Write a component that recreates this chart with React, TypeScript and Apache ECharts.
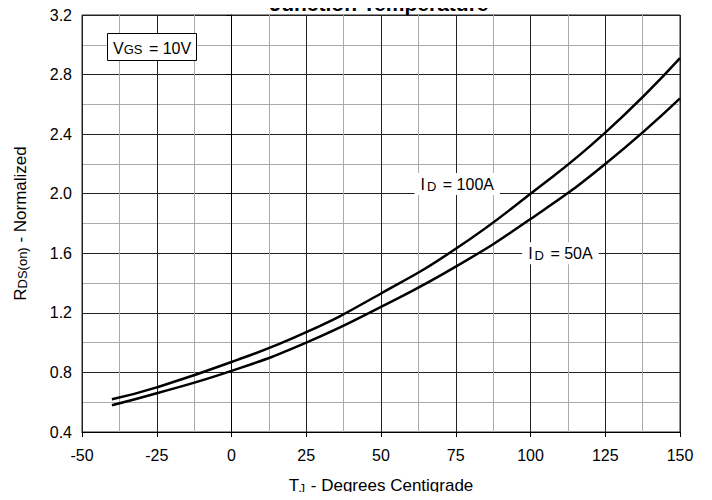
import React, { useEffect, useRef } from "react";
import * as echarts from "echarts";

const temps = [-40, -25, 0, 25, 50, 75, 100, 125, 150];
const rds100A = [0.62, 0.70, 0.87, 1.07, 1.33, 1.63, 2.0, 2.41, 2.91];
const rds50A = [0.58, 0.66, 0.81, 1.0, 1.24, 1.51, 1.83, 2.2, 2.64];
const xMin = -50, xMax = 150, xStep = 25;
const yMin = 0.4, yMax = 3.2, yStep = 0.4;
const label100 = { text: "I{s|D} = 100A", coord: [75.5, 2.065] };
const label50 = { text: "I{s|D} = 50A", coord: [110, 1.6] };

const FONT = "Liberation Sans, Arial, sans-serif";

export default function App() {
  const ref = useRef<HTMLDivElement>(null);
  useEffect(() => {
    const chart = echarts.init(ref.current!, null, { renderer: "svg" });
    const mkLabel = (l: { text: string; coord: number[] }) => ({
      symbol: "circle",
      symbolSize: 1,
      silent: true,
      itemStyle: { color: "rgba(0,0,0,0)" },
      label: {
        show: true,
        position: "inside",
        formatter: l.text,
        color: "#000",
        fontFamily: FONT,
        fontSize: 16,
        backgroundColor: "#fff",
        padding: [2, 6, 2, 6],
        rich: { s: { fontSize: 13, fontFamily: FONT, color: "#000", padding: [5, 2, 0, 2] } },
      },
      data: [{ coord: l.coord }],
    });
    chart.setOption({
      animation: false,
      title: [
        {
          text: "Junction Temperature",
          left: 379,
          textAlign: "center",
          top: -7,
          padding: 0,
          textStyle: { fontFamily: FONT, fontSize: 21, fontWeight: "bold", color: "#000" },
        },
        {
          text: "V{s|GS} = 10V",
          left: 107,
          top: 33,
          padding: [7, 6, 5, 6],
          borderColor: "#000",
          borderWidth: 1,
          backgroundColor: "#fff",
          textStyle: {
            fontFamily: FONT,
            fontSize: 16,
            fontWeight: "normal",
            color: "#000",
            rich: { s: { fontSize: 13, fontFamily: FONT, color: "#000", padding: [3, 2, 0, 0] } },
          },
        },
      ],
      grid: { left: 82, right: 32, top: 15, bottom: 66, show: true, borderColor: "#222", borderWidth: 1 },
      xAxis: {
        type: "value",
        min: xMin,
        max: xMax,
        interval: xStep,
        name: "T{s|J} - Degrees Centigrade",
        nameLocation: "middle",
        nameGap: 44,
        nameTextStyle: {
          fontFamily: FONT,
          fontSize: 17,
          color: "#000",
          rich: { s: { fontSize: 12, fontFamily: FONT, color: "#000", padding: [7, 1, 0, 0] } },
        },
        axisLine: { show: true, onZero: false, lineStyle: { color: "#000" } },
        axisTick: { show: true, length: 5, inside: false, lineStyle: { color: "#000" } },
        axisLabel: { fontFamily: FONT, fontSize: 16, color: "#000", margin: 15 },
        splitLine: { show: true, lineStyle: { color: "#222", width: 1 } },
        minorTick: { show: false, splitNumber: 2 },
        minorSplitLine: { show: true, lineStyle: { color: "#aaa", width: 1 } },
      },
      yAxis: {
        type: "value",
        min: yMin,
        max: yMax,
        interval: yStep,
        name: "R{s|DS(on)} - Normalized",
        nameLocation: "middle",
        nameGap: 53,
        nameTextStyle: {
          fontFamily: FONT,
          fontSize: 17,
          color: "#000",
          rich: { s: { fontSize: 13, fontFamily: FONT, color: "#000", padding: [5, 0, 0, 0] } },
        },
        axisLine: { show: true, lineStyle: { color: "#000" } },
        axisTick: { show: true, length: 5, inside: false, lineStyle: { color: "#000" } },
        axisLabel: {
          fontFamily: FONT,
          fontSize: 16,
          color: "#000",
          margin: 10,
          formatter: (v: number) => v.toFixed(1),
        },
        splitLine: { show: true, lineStyle: { color: "#222", width: 1 } },
        minorTick: { show: false, splitNumber: 2 },
        minorSplitLine: { show: true, lineStyle: { color: "#aaa", width: 1 } },
      },
      series: [
        {
          type: "line",
          name: "ID = 100A",
          data: temps.map((t, i) => [t, rds100A[i]]),
          smooth: true,
          showSymbol: false,
          lineStyle: { color: "#000", width: 2.5 },
          markPoint: mkLabel(label100),
          z: 3,
        },
        {
          type: "line",
          name: "ID = 50A",
          data: temps.map((t, i) => [t, rds50A[i]]),
          smooth: true,
          showSymbol: false,
          lineStyle: { color: "#000", width: 2.5 },
          markPoint: mkLabel(label50),
          z: 3,
        },
      ],
    });
    return () => chart.dispose();
  }, []);
  return <div ref={ref} style={{ width: 712, height: 500, margin: -8 }} />;
}
